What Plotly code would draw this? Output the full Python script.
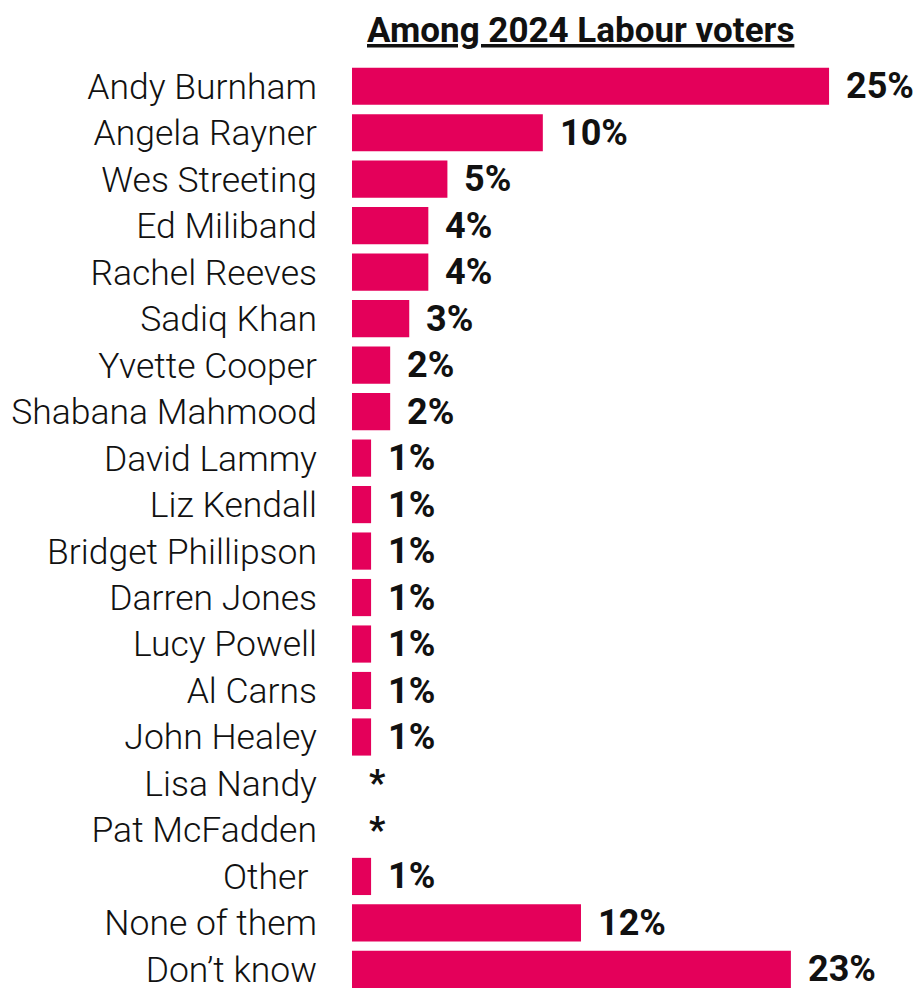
import plotly.graph_objects as go

names = ["Andy Burnham", "Angela Rayner", "Wes Streeting", "Ed Miliband", "Rachel Reeves",
         "Sadiq Khan", "Yvette Cooper", "Shabana Mahmood", "David Lammy", "Liz Kendall",
         "Bridget Phillipson", "Darren Jones", "Lucy Powell", "Al Carns", "John Healey",
         "Lisa Nandy", "Pat McFadden", "Other ", "None of them", "Don\u2019t know"]
values = [25, 10, 5, 4, 4, 3, 2, 2, 1, 1, 1, 1, 1, 1, 1, 0, 0, 1, 12, 23]
labels = ["25%", "10%", "5%", "4%", "4%", "3%", "2%", "2%", "1%", "1%", "1%", "1%", "1%",
          "1%", "1%", "*", "*", "1%", "12%", "23%"]
title = "Among 2024 Labour voters"

FONT = "Roboto"
color = "#E4005A"

# page body has an 8px default margin; figure sized to fill the rest of the window
W, H = 914, 980
ML, MT = 344, 55
PW = W - ML
PH = H - MT

fig = go.Figure()
fig.add_trace(go.Bar(
    x=values, y=names, orientation="h",
    marker=dict(color=color, line=dict(width=0)),
    hoverinfo="skip",
))

for n, v, t in zip(names, values, labels):
    fig.add_annotation(x=v, y=n, text="<b>" + t + "</b>", showarrow=False,
                       xanchor="left", yanchor="middle", xshift=15, yshift=0,
                       font=dict(family=FONT, size=36, color="#111111"))

fig.add_annotation(xref="paper", yref="paper",
                   x=(572 - ML) / PW, y=1 + MT / PH,
                   text="<b><u>" + title + "</u></b>",
                   showarrow=False, xanchor="center", yanchor="top", yshift=0,
                   font=dict(family=FONT, size=35, color="#111111"))

fig.update_layout(
    width=W, height=H,
    margin=dict(l=ML, r=0, t=MT, b=0, autoexpand=False),
    paper_bgcolor="white", plot_bgcolor="white",
    bargap=0.2, showlegend=False,
    font=dict(family=FONT, color="#111111"),
    xaxis=dict(range=[0, 29.87], visible=False, fixedrange=True),
    yaxis=dict(range=[19.4, -0.5], showgrid=False, zeroline=False, showline=False,
               ticks="", ticklabelstandoff=34,
               tickfont=dict(family=FONT, size=35.5, color="#111111", weight=300),
               fixedrange=True),
)

fig.write_html("out.html")
